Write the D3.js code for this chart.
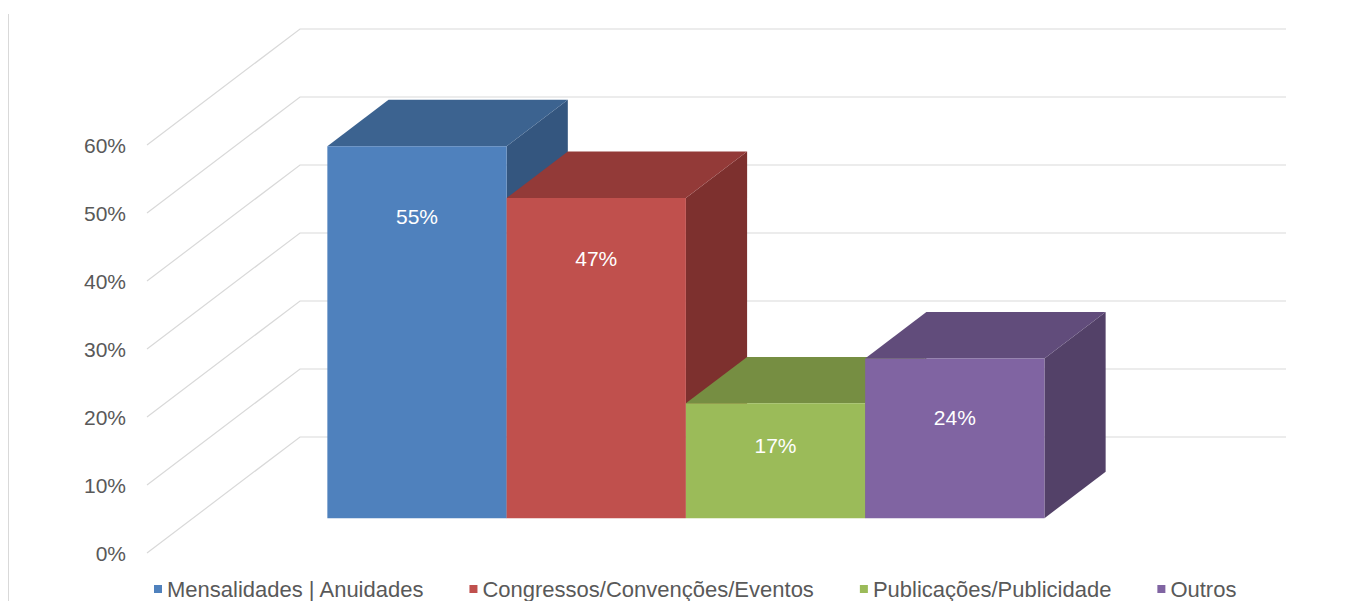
<!DOCTYPE html>
<html>
<head>
<meta charset="utf-8">
<script src="https://cdn.jsdelivr.net/npm/d3@7"></script>
<style>
  html, body { margin: 0; padding: 0; background: #fff; }
  svg { display: block; }
  text { font-family: "Liberation Sans", Arial, sans-serif; }
</style>
</head>
<body>
<svg id="chart" width="1359" height="601"></svg>
<script>
// ---- data ----
const categories = ["Mensalidades | Anuidades", "Congressos/Convenções/Eventos", "Publicações/Publicidade", "Outros"];
const values = [0.547, 0.471, 0.169, 0.235];
const valueLabels = ["55%", "47%", "17%", "24%"];
const tickValues = [0, 0.1, 0.2, 0.3, 0.4, 0.5, 0.6];
const frontColors = ["#4F81BD", "#C0504D", "#9BBB59", "#8064A2"];
const topColors   = ["#3C6390", "#933A38", "#768E42", "#614C7B"];
const sideColors  = ["#34567F", "#7D302E", "#657A38", "#534168"];

// ---- layout ----
const W = 1359, H = 601;
const svg = d3.select("#chart");
const floorLeft = 147, floorRight = 1133;   // front plane x extent
const depthX = 153, depthY = -116;          // full depth projection vector
const d0 = 0.3, d1 = 0.7;                   // bar depth range

const y = d3.scaleLinear().domain([0, 0.6]).range([553, 145]);
const x = d3.scaleBand().domain(categories).range([floorLeft, floorRight])
  .paddingInner(0).paddingOuter(0.75);
const color = d3.scaleOrdinal().domain(categories).range(frontColors);

const P = (xv, yv, d) => [xv + d * depthX, yv + d * depthY];
const poly = pts => "M" + pts.map(p => p.join(",")).join("L") + "Z";

// chart-area left border
svg.append("line").attr("x1", 8.5).attr("x2", 8.5).attr("y1", 14).attr("y2", H)
  .attr("stroke", "#d9d9d9").attr("stroke-width", 1);

// gridlines (side wall diagonals + back wall horizontals)
const grid = svg.append("g").attr("stroke", "#d9d9d9").attr("stroke-width", 1.2).attr("fill", "none");
tickValues.forEach(t => {
  const a = P(floorLeft, y(t), 0), b = P(floorLeft, y(t), 1), c = P(floorRight, y(t), 1);
  grid.append("path").attr("d", `M${a}L${b}L${c}`);
});

// axis labels
const fmt = d3.format(".0%");
svg.append("g").selectAll("text").data(tickValues).join("text")
  .attr("x", 126).attr("y", d => y(d))
  .attr("text-anchor", "end").attr("dominant-baseline", "central")
  .attr("font-size", 21).attr("fill", "#595959")
  .text(d => fmt(d));

// bars
const bars = svg.append("g");
categories.forEach((c, i) => {
  const v = values[i];
  const x0 = x(c), x1 = x0 + x.bandwidth();
  const yT = y(v), yB = y(0);
  const g = bars.append("g");
  g.append("path").attr("fill", sideColors[i])
    .attr("d", poly([P(x1, yT, d0), P(x1, yT, d1), P(x1, yB, d1), P(x1, yB, d0)]));
  g.append("path").attr("fill", topColors[i])
    .attr("d", poly([P(x0, yT, d0), P(x1, yT, d0), P(x1, yT, d1), P(x0, yT, d1)]));
  g.append("path").attr("fill", color(c))
    .attr("d", poly([P(x0, yT, d0), P(x1, yT, d0), P(x1, yB, d0), P(x0, yB, d0)]));
  const fTop = P(x0, yT, d0), fBot = P(x0, yB, d0);
  const h = fBot[1] - fTop[1];
  const off = h < 170 ? 0.37 * h : 0.19 * h;
  g.append("text")
    .attr("x", fTop[0] + x.bandwidth() / 2)
    .attr("y", fTop[1] + off)
    .attr("text-anchor", "middle").attr("dominant-baseline", "central")
    .attr("font-size", 21).attr("fill", "#ffffff")
    .text(valueLabels[i]);
});

// legend
const legend = svg.append("g");
let lx = 154;
const ly = 589;
categories.forEach((c, i) => {
  const item = legend.append("g").attr("transform", `translate(${lx},0)`);
  item.append("rect").attr("x", 0).attr("y", ly - 4).attr("width", 8).attr("height", 8)
    .attr("fill", color(c));
  const t = item.append("text").attr("x", 13).attr("y", ly)
    .attr("dominant-baseline", "central").attr("font-size", 22).attr("fill", "#595959")
    .text(c);
  lx += 13 + t.node().getComputedTextLength() + 46;
});
</script>
</body>
</html>
